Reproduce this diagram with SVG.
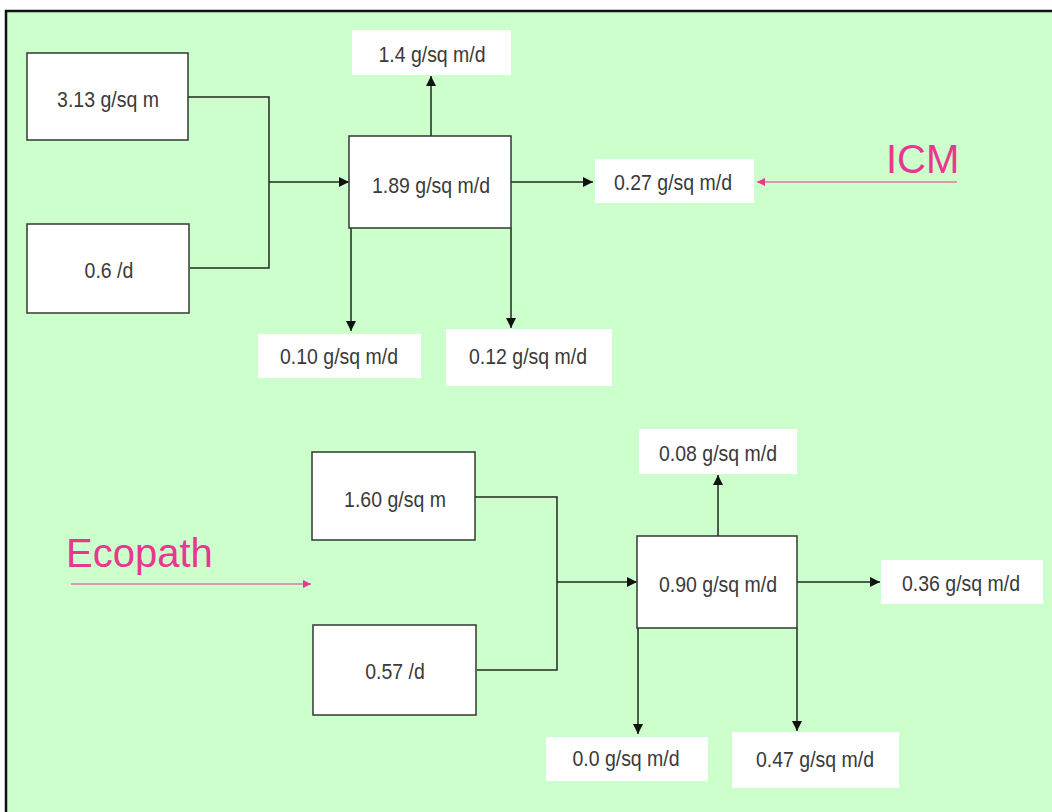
<svg xmlns="http://www.w3.org/2000/svg" width="1052" height="812" viewBox="0 0 1052 812">
  <defs>
    <marker id="ah" viewBox="0 0 10 10" refX="10" refY="5" markerWidth="10" markerHeight="10" markerUnits="userSpaceOnUse" orient="auto">
      <path d="M0,0 L10,5 L0,10 z" fill="#111"/>
    </marker>
    <marker id="ahp" viewBox="0 0 10 10" refX="10" refY="5" markerWidth="9" markerHeight="8" markerUnits="userSpaceOnUse" orient="auto">
      <path d="M0,0 L10,5 L0,10 z" fill="#e8378f"/>
    </marker>
    <style>
      .box { fill: #ffffff; stroke: #2f3a2f; stroke-width: 1.5; }
      .lbl { fill: #ffffff; stroke: none; }
      .t { font-family: "Liberation Sans", Arial, sans-serif; font-size: 19.5px; fill: #3a3a3a; text-anchor: middle;
           transform-box: fill-box; transform-origin: center; transform: scaleY(1.14); }
      .big { font-family: "Liberation Sans", Arial, sans-serif; font-size: 40px; fill: #e8378f; }
      .ln { fill: none; stroke: #1f2a1f; stroke-width: 1.5; }
      .arr { fill: none; stroke: #1f2a1f; stroke-width: 1.5; marker-end: url(#ah); }
      .parr { fill: none; stroke: #e8378f; stroke-width: 1.2; marker-end: url(#ahp); }
    </style>
  </defs>
  <rect x="0" y="0" width="1052" height="812" fill="#ffffff"/>
  <rect x="6" y="11" width="1050" height="806" fill="#ccffcc" stroke="#111" stroke-width="2.5"/>

  <g id="connectors">
    <polyline class="ln" points="188,97 269,97 269,268 190,268"/>
    <line class="arr" x1="269" y1="182" x2="349" y2="182"/>
    <line class="arr" x1="431" y1="136" x2="431" y2="76"/>
    <line class="arr" x1="351" y1="228" x2="351" y2="331"/>
    <line class="arr" x1="511" y1="228" x2="511" y2="328"/>
    <line class="arr" x1="511" y1="182" x2="593" y2="182"/>
    <line class="parr" x1="957" y1="182" x2="757" y2="182"/>

    <polyline class="ln" points="475,497 557,497 557,670 477,670"/>
    <line class="arr" x1="557" y1="582" x2="637" y2="582"/>
    <line class="arr" x1="718" y1="536" x2="718" y2="475"/>
    <line class="arr" x1="638" y1="628" x2="638" y2="734"/>
    <line class="arr" x1="797" y1="628" x2="797" y2="731"/>
    <line class="arr" x1="797" y1="582" x2="880" y2="582"/>
    <line class="parr" x1="71" y1="584" x2="311" y2="584"/>
  </g>

  <g id="n_313">
    <rect class="box" x="27" y="53" width="161" height="87"/>
    <text class="t" x="108" y="106">3.13 g/sq m</text>
  </g>
  <g id="n_06">
    <rect class="box" x="27" y="224" width="162" height="89"/>
    <text class="t" x="109" y="277">0.6 /d</text>
  </g>
  <g id="n_189">
    <rect class="box" x="349" y="136" width="162" height="92"/>
    <text class="t" x="431" y="192">1.89 g/sq m/d</text>
  </g>
  <g id="n_14">
    <rect class="lbl" x="352" y="30" width="159" height="45"/>
    <text class="t" x="432" y="61">1.4 g/sq m/d</text>
  </g>
  <g id="n_010">
    <rect class="lbl" x="258" y="334" width="163" height="44"/>
    <text class="t" x="339" y="363">0.10 g/sq m/d</text>
  </g>
  <g id="n_012">
    <rect class="lbl" x="446" y="329" width="166" height="57"/>
    <text class="t" x="528" y="363">0.12 g/sq m/d</text>
  </g>
  <g id="n_027">
    <rect class="lbl" x="595" y="159" width="159" height="44"/>
    <text class="t" x="673" y="189">0.27 g/sq m/d</text>
  </g>
  <g id="lbl_icm">
    <text class="big" x="886" y="173">ICM</text>
  </g>

  <g id="n_160">
    <rect class="box" x="312" y="452" width="163" height="88"/>
    <text class="t" x="395" y="506">1.60 g/sq m</text>
  </g>
  <g id="n_057">
    <rect class="box" x="313" y="625" width="163" height="90"/>
    <text class="t" x="395" y="678">0.57 /d</text>
  </g>
  <g id="n_090">
    <rect class="box" x="637" y="536" width="160" height="92"/>
    <text class="t" x="718" y="591">0.90 g/sq m/d</text>
  </g>
  <g id="n_008">
    <rect class="lbl" x="639" y="429" width="158" height="45"/>
    <text class="t" x="718" y="460">0.08 g/sq m/d</text>
  </g>
  <g id="n_036">
    <rect class="lbl" x="881" y="560" width="162" height="44"/>
    <text class="t" x="961" y="590">0.36 g/sq m/d</text>
  </g>
  <g id="n_00">
    <rect class="lbl" x="546" y="737" width="162" height="44"/>
    <text class="t" x="626" y="765">0.0 g/sq m/d</text>
  </g>
  <g id="n_047">
    <rect class="lbl" x="732" y="732" width="167" height="56"/>
    <text class="t" x="815" y="766">0.47 g/sq m/d</text>
  </g>
  <g id="lbl_ecopath">
    <text class="big" x="66" y="567">Ecopath</text>
  </g>
</svg>
